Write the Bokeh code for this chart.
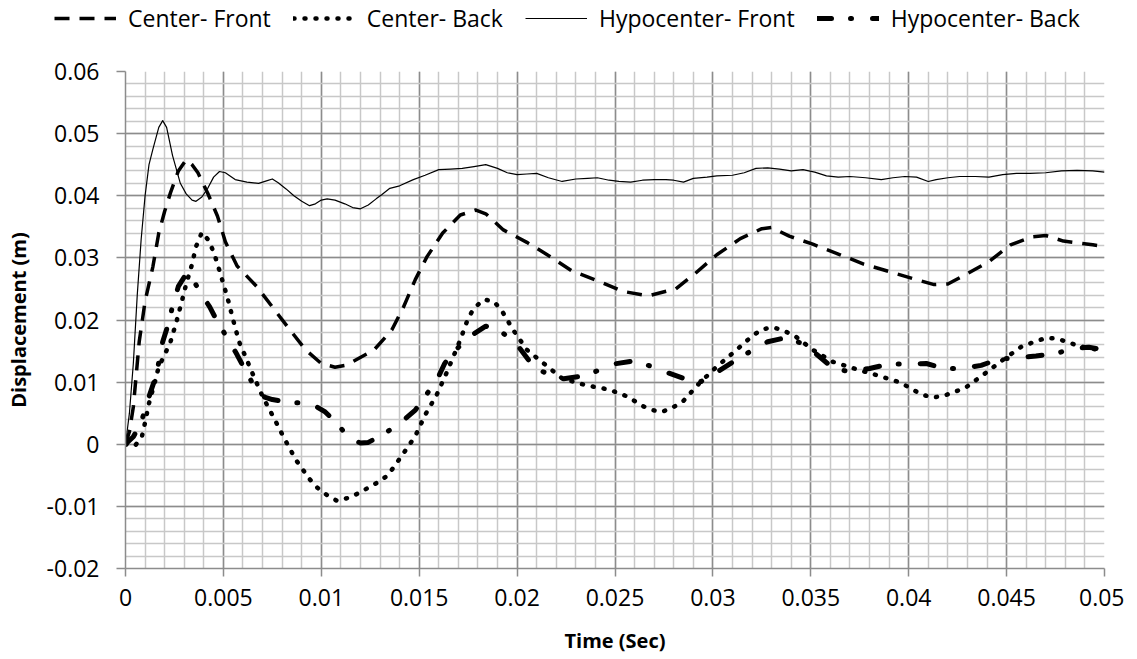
from bokeh.plotting import figure
from bokeh.models import Range1d, FixedTicker, Legend, LegendItem
from bokeh.layouts import column, row
from bokeh.embed import file_html
from bokeh.resources import INLINE
import numpy as np

# ---------------- data ----------------
series_names = ["Center- Front", "Center- Back", "Hypocenter- Front", "Hypocenter- Back"]

cf_t = [0, 0.0002, 0.0004, 0.0007, 0.0010, 0.0014, 0.0017, 0.0020, 0.0023, 0.0027, 0.0031, 0.0034,
        0.0037, 0.0042, 0.0047, 0.0051, 0.0057, 0.0067, 0.0075, 0.0084, 0.0092, 0.0100, 0.0107,
        0.0112, 0.0116, 0.0127, 0.0136, 0.0142, 0.0148, 0.0154, 0.0162, 0.0171, 0.0179, 0.0184,
        0.0193, 0.0205, 0.0217, 0.0228, 0.0242, 0.0254, 0.0267, 0.0281, 0.0291, 0.0302, 0.0314,
        0.0325, 0.0330, 0.0339, 0.0351, 0.0365, 0.0377, 0.0390, 0.0404, 0.0413, 0.0420, 0.0429,
        0.0441, 0.0452, 0.0463, 0.0470, 0.0479, 0.0494, 0.0500]
cf_v = [0, 0.002, 0.006, 0.0165, 0.023, 0.0286, 0.034, 0.0375, 0.0405, 0.0440, 0.0458, 0.0450,
        0.0437, 0.0404, 0.0367, 0.0326, 0.0287, 0.0254, 0.0221, 0.0184, 0.0152, 0.0130, 0.0124,
        0.0127, 0.0133, 0.0152, 0.0184, 0.0221, 0.0265, 0.0302, 0.0340, 0.0369, 0.0377, 0.0371,
        0.0345, 0.0325, 0.0302, 0.0279, 0.0262, 0.0246, 0.0239, 0.0250, 0.0275, 0.0305, 0.0331,
        0.0347, 0.0349, 0.0335, 0.0322, 0.0305, 0.0290, 0.0278, 0.0265, 0.0257, 0.0258, 0.0273,
        0.0294, 0.0321, 0.0334, 0.0336, 0.0327, 0.0321, 0.0318]

cb_t = [0, 0.0003, 0.0005, 0.00085, 0.0010, 0.0012, 0.0015, 0.0017, 0.0020, 0.0023, 0.0026,
        0.0029, 0.0031, 0.0034, 0.0036, 0.0039, 0.0042, 0.0045, 0.0047, 0.0050, 0.0052, 0.0055,
        0.0058, 0.0061, 0.0065, 0.0070, 0.0076, 0.0081, 0.0087, 0.0094, 0.0098, 0.0103, 0.0108,
        0.0113, 0.0119, 0.0124, 0.0129, 0.0134, 0.0141, 0.0148, 0.0153, 0.0159, 0.0164, 0.0171,
        0.0175, 0.0178, 0.0183, 0.0188, 0.0192, 0.0198, 0.0205, 0.0214, 0.0223, 0.0235, 0.0247,
        0.0257, 0.0263, 0.0269, 0.0274, 0.0280, 0.0285, 0.0293, 0.0302, 0.0311, 0.0320, 0.0325,
        0.0331, 0.0336, 0.0342, 0.0351, 0.0361, 0.0373, 0.0384, 0.0396, 0.0406, 0.0412, 0.0418,
        0.0429, 0.0439, 0.0449, 0.0458, 0.0470, 0.0476, 0.0487, 0.0500]
cb_v = [0, -0.0002, -0.0002, 0.0014, 0.0035, 0.0066, 0.0100, 0.0125, 0.0144, 0.0165, 0.0197,
        0.0233, 0.0258, 0.0290, 0.0318, 0.0341, 0.0330, 0.0310, 0.0290, 0.0258, 0.0237, 0.0200,
        0.0165, 0.0143, 0.0113, 0.0077, 0.0041, 0.0010, -0.0025, -0.0056, -0.0070, -0.0082, -0.0091,
        -0.0087, -0.0079, -0.0070, -0.0061, -0.0050, -0.0019, 0.0013, 0.0047, 0.0080, 0.0115, 0.0168,
        0.0203, 0.0219, 0.0233, 0.0230, 0.0216, 0.0184, 0.0152, 0.0129, 0.0106, 0.0095, 0.0088,
        0.0076, 0.0063, 0.0055, 0.0052, 0.0060, 0.0070, 0.0098, 0.0125, 0.0149, 0.0174, 0.0185,
        0.0188, 0.0183, 0.0174, 0.0152, 0.0133, 0.0121, 0.0111, 0.0099, 0.0081, 0.0075, 0.0078,
        0.0091, 0.0114, 0.0138, 0.0158, 0.0171, 0.0170, 0.0158, 0.0150]

hf_t = [0, 0.0002, 0.0004, 0.0006, 0.0008, 0.0010, 0.0012, 0.0014, 0.0017, 0.0019, 0.0021, 0.0024,
        0.0028, 0.0031, 0.0034, 0.0036, 0.0039, 0.0042, 0.0045, 0.0048, 0.0051, 0.0056, 0.0062,
        0.0068, 0.0072, 0.0075, 0.0078, 0.0082, 0.0086, 0.0090, 0.0094, 0.0097, 0.0100, 0.0103,
        0.0107, 0.0112, 0.0116, 0.0120, 0.0124, 0.0128, 0.0131, 0.0135, 0.0140, 0.0147, 0.0153,
        0.0160, 0.0166, 0.0172, 0.0178, 0.0184, 0.0190, 0.0195, 0.0200, 0.0205, 0.0210, 0.0216,
        0.0223, 0.0230, 0.0236, 0.0241, 0.0247, 0.0252, 0.0258, 0.0264, 0.0270, 0.0276, 0.0280,
        0.0285, 0.0290, 0.0297, 0.0302, 0.0310, 0.0316, 0.0322, 0.0328, 0.0334, 0.0340, 0.0346,
        0.0352, 0.0358, 0.0364, 0.0370, 0.0378, 0.0386, 0.0392, 0.0398, 0.0404, 0.0410, 0.0414,
        0.0420, 0.0426, 0.0434, 0.0441, 0.0448, 0.0455, 0.0462, 0.0470, 0.0478, 0.0486, 0.0494,
        0.0500]
hf_v = [0, 0.005, 0.013, 0.024, 0.033, 0.040, 0.045, 0.0475, 0.051, 0.0521, 0.051, 0.0465,
        0.042, 0.0403, 0.0393, 0.0391, 0.0398, 0.0412, 0.0430, 0.0439, 0.0437, 0.0426, 0.0422,
        0.0420, 0.0424, 0.0427, 0.0421, 0.0411, 0.0400, 0.0391, 0.0384, 0.0387, 0.0393, 0.0395,
        0.0393, 0.0387, 0.0381, 0.0379, 0.0385, 0.0395, 0.0402, 0.0412, 0.0416, 0.0426, 0.0433,
        0.0442, 0.0443, 0.0444, 0.0447, 0.0450, 0.0444, 0.0437, 0.0434, 0.0435, 0.0436, 0.0429,
        0.0423, 0.0427, 0.0428, 0.0429, 0.0425, 0.0423, 0.0422, 0.0425, 0.0426, 0.0426, 0.0425,
        0.0422, 0.0428, 0.0430, 0.0432, 0.0433, 0.0437, 0.0444, 0.0445, 0.0443, 0.0440, 0.0442,
        0.0438, 0.0432, 0.0430, 0.0431, 0.0429, 0.0426, 0.0429, 0.0431, 0.0430, 0.0423, 0.0426,
        0.0429, 0.0431, 0.0431, 0.0430, 0.0434, 0.0436, 0.0436, 0.0437, 0.0440, 0.0441, 0.0440,
        0.0438]

hb_t = [0, 0.0004, 0.0008, 0.00114, 0.00157, 0.0019, 0.0022, 0.0024, 0.0027, 0.0031, 0.0034,
        0.00375, 0.0043, 0.0047, 0.0052, 0.0057, 0.0061, 0.0066, 0.0071, 0.0075, 0.0084, 0.0094,
        0.0102, 0.0108, 0.0114, 0.0120, 0.0124, 0.0130, 0.0140, 0.0148, 0.0153, 0.0159, 0.0163,
        0.0169, 0.0176, 0.0184, 0.0192, 0.0200, 0.0206, 0.0213, 0.0223, 0.0232, 0.0240, 0.0249,
        0.0259, 0.0268, 0.0277, 0.0286, 0.0294, 0.0303, 0.0312, 0.0320, 0.0328, 0.0338, 0.0347,
        0.0354, 0.0362, 0.0370, 0.0380, 0.0390, 0.0399, 0.0409, 0.0418, 0.0427, 0.0437, 0.0446,
        0.0455, 0.0465, 0.0475, 0.0484, 0.0492, 0.0500]
hb_v = [0, 0.0012, 0.0035, 0.0071, 0.0111, 0.0165, 0.0195, 0.0222, 0.0254, 0.0274, 0.0268,
        0.0248, 0.0221, 0.0197, 0.0171, 0.0144, 0.0120, 0.0092, 0.0076, 0.0072, 0.0067, 0.0067,
        0.0052, 0.0034, 0.0010, 0.0002, 0.0003, 0.0013, 0.0033, 0.0055, 0.0077, 0.0103, 0.0130,
        0.0153, 0.0174, 0.0190, 0.0181, 0.0160, 0.0135, 0.0117, 0.0105, 0.0109, 0.0117, 0.0129,
        0.0134, 0.0126, 0.0115, 0.0105, 0.0101, 0.0118, 0.0136, 0.0151, 0.0165, 0.0172, 0.0160,
        0.0142, 0.0121, 0.0117, 0.0122, 0.0129, 0.0129, 0.0130, 0.0122, 0.0122, 0.0127, 0.0137,
        0.0139, 0.0142, 0.0146, 0.0154, 0.0156, 0.0152]

x_ticks = [0, 0.005, 0.01, 0.015, 0.02, 0.025, 0.03, 0.035, 0.04, 0.045, 0.05]
x_tick_labels = ["0", "0.005", "0.01", "0.015", "0.02", "0.025", "0.03", "0.035", "0.04", "0.045", "0.05"]
y_ticks = [-0.02, -0.01, 0, 0.01, 0.02, 0.03, 0.04, 0.05, 0.06]
y_tick_labels = ["-0.02", "-0.01", "0", "0.01", "0.02", "0.03", "0.04", "0.05", "0.06"]

# ---------------- styles ----------------
FONT = "Open Sans"
styles = [dict(line_color="black", line_width=3.5, line_dash="15 10", line_join="round"),
          dict(line_color="black", line_width=4.5, line_dash="1 10", line_cap="round", line_join="round"),
          dict(line_color="black", line_width=1.2, line_join="round"),
          dict(line_color="black", line_width=5, line_dash="14 19 1 21", line_cap="round", line_join="round")]
series = [(cf_t, cf_v), (cb_t, cb_v), (hf_t, hf_v), (hb_t, hb_v)]

# ---------------- main figure ----------------
p = figure(frame_width=979, frame_height=497,
           min_border_left=125, min_border_right=20, min_border_top=31, min_border_bottom=80,
           x_range=Range1d(0, 0.05), y_range=Range1d(-0.02, 0.06),
           output_backend="svg", toolbar_location=None,
           background_fill_color="white", border_fill_color="white")
p.outline_line_color = None

x_minor = [round(i * 0.001, 4) for i in range(0, 51)]
y_minor = [round(-0.02 + i * 0.002, 4) for i in range(0, 41)]
p.xaxis.ticker = FixedTicker(ticks=x_ticks, minor_ticks=x_minor)
p.yaxis.ticker = FixedTicker(ticks=y_ticks, minor_ticks=y_minor)
p.xaxis.major_label_overrides = {t: s for t, s in zip(x_ticks, x_tick_labels)}
p.yaxis.major_label_overrides = {t: s for t, s in zip(y_ticks, y_tick_labels)}

for g in (p.xgrid, p.ygrid):
    g.grid_line_color = "#8c8c8c"
    g.grid_line_width = 1.5
    g.minor_grid_line_color = "#c8c8c8"
    g.minor_grid_line_width = 1.5

for ax in (p.xaxis, p.yaxis):
    ax.axis_line_color = "#8c8c8c"
    ax.axis_line_width = 1.5
    ax.major_tick_line_color = "#8c8c8c"
    ax.major_tick_line_width = 1.5
    ax.major_tick_in = 0
    ax.minor_tick_line_color = None
    ax.major_label_text_font = FONT
    ax.major_label_text_font_size = "23px"
    ax.major_label_text_color = "black"
    ax.axis_label_text_font = FONT
    ax.axis_label_text_font_size = "20px"
    ax.axis_label_text_font_style = "bold"
    ax.axis_label_text_color = "black"

p.xaxis.major_tick_out = 8
p.yaxis.major_tick_out = 9
p.xaxis.major_label_standoff = 12
p.yaxis.major_label_standoff = 17
p.xaxis.axis_label = "Time (Sec)"
p.yaxis.axis_label = "Displacement (m)"
p.xaxis.axis_label_standoff = 18
p.yaxis.axis_label_standoff = 12

for (t, v), st in zip(series, styles):
    p.line(t, v, **st)

# ---------------- legend strip (same series; data kept outside its view) ----------------
lg = figure(width=1121, height=40, min_border=0, x_range=Range1d(0, 1), y_range=Range1d(10, 11),
            x_axis_location=None, y_axis_location=None,
            output_backend="svg", toolbar_location=None,
            background_fill_color="white", border_fill_color="white")
lg.outline_line_color = None
lg.grid.visible = False
items = []
for name, (t, v), st in zip(series_names, series, styles):
    r = lg.line(t, v, **st)
    items.append(LegendItem(label=name, renderers=[r]))
legend = Legend(items=items, orientation="horizontal", location=(54, 6),
                border_line_color=None, background_fill_alpha=0,
                padding=0, margin=0, spacing=22, glyph_width=62, glyph_height=20,
                label_standoff=12, label_text_font=FONT, label_text_font_size="23px",
                label_text_color="black")
lg.add_layout(legend)

layout = column(row(lg), p, spacing=0)
open("out.html", "w").write(file_html(layout, INLINE))
